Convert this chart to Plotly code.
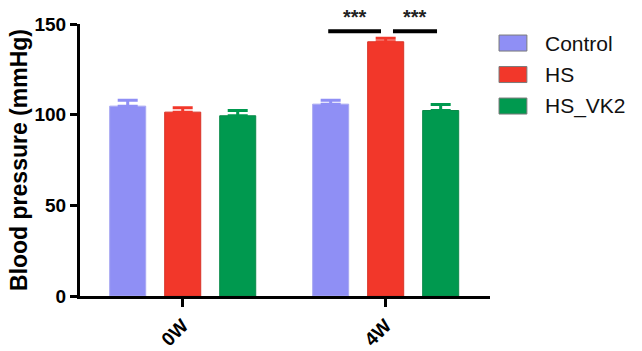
import plotly.graph_objects as go

categories = ["0W", "4W"]
series = ["Control", "HS", "HS_VK2"]
means = {
    "Control": [104.7, 105.8],
    "HS": [101.4, 140.2],
    "HS_VK2": [99.4, 102.3],
}
sem = {
    "Control": [3.3, 2.2],
    "HS": [2.4, 1.9],
    "HS_VK2": [2.9, 3.3],
}
colors = {"Control": "#8f8ff5", "HS": "#f2372a", "HS_VK2": "#00994f"}
edges = {"Control": "#a9a9f2", "HS": "#d83428", "HS_VK2": "#0a8a49"}
# significance comparisons: (category index, series a, series b, label)
comparisons = [(1, 0, 1, "***"), (1, 1, 2, "***")]
sig_level = 146

FONT = "Liberation Sans, Arial, sans-serif"
bargap = 0.187
slot = (1 - bargap) / 3

fig = go.Figure()
for s in series:
    fig.add_trace(go.Bar(
        x=categories, y=means[s], name=s,
        marker=dict(color=colors[s], line=dict(color=edges[s], width=1)),
        error_y=dict(type="data", array=sem[s], arrayminus=[0] * len(sem[s]),
                     symmetric=False, color=colors[s], thickness=3, width=10),
        showlegend=False,
    ))

shapes = []
annotations = []
for ci, a, b, lab in comparisons:
    ca = ci + (a - 1) * slot
    cb = ci + (b - 1) * slot
    x0 = ca - 0.012 if a == 0 else ca + 0.036
    x1 = cb - 0.023 if a == 0 else cb - 0.018
    shapes.append(dict(type="line", xref="x", yref="y", x0=x0, x1=x1,
                       y0=sig_level, y1=sig_level, line=dict(color="black", width=4)))
    annotations.append(dict(xref="x", yref="y", x=(x0 + x1) / 2, y=sig_level + 0.8,
                            text="<b>" + lab + "</b>", showarrow=False, yanchor="bottom",
                            font=dict(family=FONT, size=20, color="#222")))

# manual legend
row_h = 31.5 / 272
y_top = 0.930
for i, s in enumerate(series):
    yc = y_top - i * row_h
    shapes.append(dict(type="rect", xref="paper", yref="paper",
                       x0=1.022, x1=1.090, y0=yc - 8 / 272, y1=yc + 8 / 272,
                       fillcolor=colors[s], line=dict(color="#7a7a7a", width=1)))
    annotations.append(dict(xref="paper", yref="paper", x=1.129, y=yc, text=s,
                            showarrow=False, xanchor="left", yanchor="middle",
                            font=dict(family=FONT, size=21, color="#111")))

fig.update_layout(
    width=642, height=351,
    margin=dict(l=80, r=152, t=24, b=55),
    plot_bgcolor="white", paper_bgcolor="white",
    barmode="group", bargap=bargap, bargroupgap=0.345,
    shapes=shapes, annotations=annotations,
    font=dict(family=FONT, color="black"),
)
fig.update_xaxes(
    range=[-0.506, 1.514], showline=True, linecolor="black", linewidth=3,
    ticks="outside", ticklen=8, tickwidth=3, tickcolor="black",
    tickangle=-45, tickfont=dict(family=FONT, size=19, weight="bold"),
    showgrid=False, zeroline=False, automargin=False,
)
fig.update_yaxes(
    range=[0, 150], tickvals=[0, 50, 100, 150], showline=True, linecolor="black",
    linewidth=3, ticks="outside", ticklen=7, tickwidth=3, tickcolor="black",
    tickfont=dict(family=FONT, size=19, weight="bold"),
    title=dict(text="Blood pressure (mmHg)", font=dict(family=FONT, size=23, weight="bold"),
               standoff=1),
    showgrid=False, zeroline=False, automargin=False,
)
fig.write_html("out.html")
